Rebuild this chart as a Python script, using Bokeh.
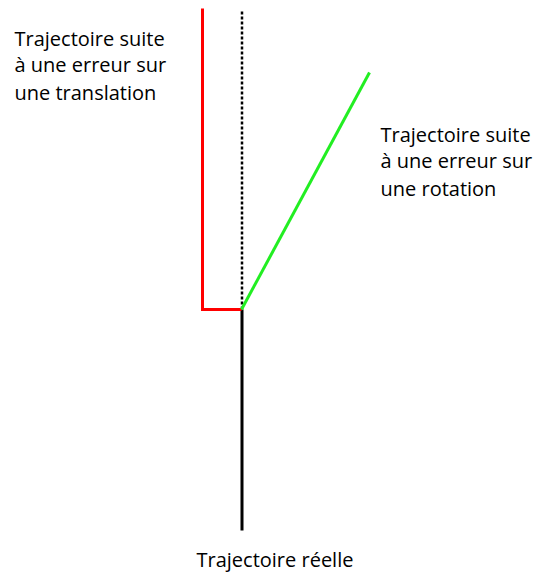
from bokeh.plotting import figure
from bokeh.models import Range1d
from bokeh.core.properties import value
from bokeh.embed import file_html
from bokeh.resources import INLINE

# Trajectories (screen-like coordinates, y grows downward)
real_x = [241.5, 241.5]
real_y = [309, 530]
expected_x = [241.5, 241.5]
expected_y = [11, 309]
translation_x = [202, 202, 241]
translation_y = [8, 309, 309]
rotation_x = [241, 369]
rotation_y = [309, 72]

label_translation = ["Trajectoire suite", "à une erreur sur", "une translation"]
label_rotation = ["Trajectoire suite", "à une erreur sur", "une rotation"]
label_real = ["Trajectoire réelle"]

p = figure(width=534, height=572, output_backend="svg", toolbar_location=None,
           x_range=Range1d(0, 534), y_range=Range1d(572, 0), min_border=0)
p.axis.visible = False
p.grid.visible = False
p.outline_line_color = None

p.line(expected_x, expected_y, line_color="black", line_width=2.5, line_dash="3 2")
p.line(real_x, real_y, line_color="black", line_width=3)
p.line(translation_x, translation_y, line_color="#ff0000", line_width=3, line_join="miter")
p.line(rotation_x, rotation_y, line_color="#22ee22", line_width=3)

font = value("Open Sans")
p.text(x=[14] * 3, y=[38, 64, 92], text=label_translation, text_font=font,
       text_font_size="20px", text_color="black", text_baseline="alphabetic")
p.text(x=[380] * 3, y=[134, 160, 188], text=label_rotation, text_font=font,
       text_font_size="20px", text_color="black", text_baseline="alphabetic")
p.text(x=[196], y=[559], text=label_real, text_font=font,
       text_font_size="20px", text_color="black", text_baseline="alphabetic")

open("out.html", "w").write(file_html(p, INLINE))
